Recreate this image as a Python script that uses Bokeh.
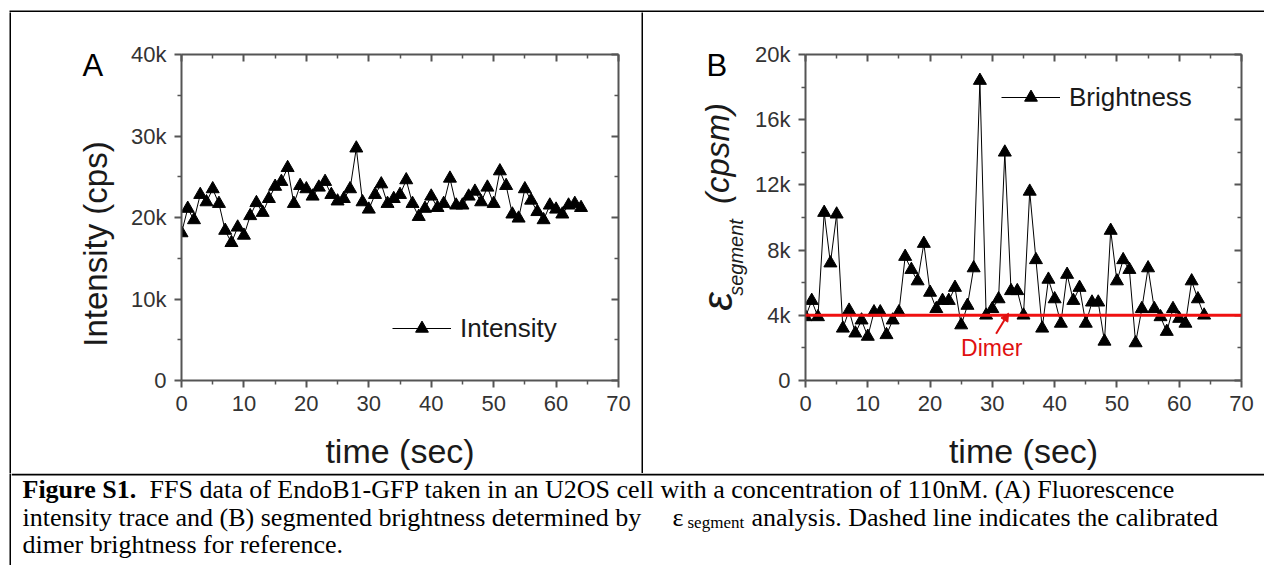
import math
from bokeh.plotting import figure
from bokeh.layouts import column, row
from bokeh.models import (Range1d, LinearAxis, Span, Label, Arrow, NormalHead,
                          Legend, LegendItem, Spacer, FixedTicker)
from bokeh.embed import file_html
from bokeh.resources import INLINE

# ---------------- data ----------------
time_s = list(range(65))
intensity_cps = [18100, 21100, 19700, 22800, 21900, 23500, 21700, 18400, 16900, 18800,
                 17800, 20200, 21800, 20600, 22300, 23800, 24400, 26100, 21700, 23900,
                 23500, 22600, 23700, 24400, 22800, 22000, 22300, 23500, 28500, 21900,
                 21000, 22800, 24100, 21700, 22300, 22800, 24600, 21700, 20100, 21100,
                 22600, 21200, 21700, 24800, 21500, 21500, 22600, 23200, 21900, 23700,
                 21700, 25700, 23900, 20400, 19900, 23500, 22100, 20700, 19700, 21500,
                 21000, 20400, 21500, 21700, 21200]
brightness_cpsm = [3900, 4900, 3900, 10300, 7200, 10200, 3200, 4300, 2900, 3700,
                   2700, 4200, 4200, 2800, 3700, 4200, 7600, 6800, 6100, 8400,
                   5400, 4400, 4900, 4900, 5700, 3400, 4600, 6900, 18400, 4000,
                   4400, 5000, 14000, 5500, 5500, 4000, 11600, 7400, 3200, 6200,
                   5000, 3500, 6500, 4900, 5700, 3500, 4800, 4800, 2400, 9200,
                   6100, 7400, 6800, 2300, 4400, 6900, 4400, 3900, 3000, 4400,
                   3800, 3500, 6100, 5000, 4000]
dimer_level = 4000

x_ticks = [0, 10, 20, 30, 40, 50, 60, 70]
x_minor = [5, 15, 25, 35, 45, 55, 65]
a_y_ticks = [0, 10000, 20000, 30000, 40000]
a_y_minor = [5000, 15000, 25000, 35000]
a_y_tick_labels = ["0", "10k", "20k", "30k", "40k"]
b_y_ticks = [0, 4000, 8000, 12000, 16000, 20000]
b_y_minor = [2000, 6000, 10000, 14000, 18000]
b_y_tick_labels = ["0", "4k", "8k", "12k", "16k", "20k"]

SANS = "Liberation Sans"
SERIF = "Liberation Serif"
AXIS_GREY = "#555555"
TEXT = "#1a1a1a"
PANEL_H = 461
TOP_H = 12
CAP_H = 92


def style_axes(p, yt, ym, ylabels):
    bottom = p.below[0]
    left = p.left[0]
    xt = FixedTicker(ticks=x_ticks, minor_ticks=x_minor)
    ytk = FixedTicker(ticks=yt, minor_ticks=ym)
    top = LinearAxis(ticker=xt)
    right = LinearAxis(ticker=ytk)
    p.add_layout(top, "above")
    p.add_layout(right, "right")
    bottom.ticker = xt
    left.ticker = ytk
    for ax in [bottom, left, top, right]:
        ax.axis_line_color = AXIS_GREY
        ax.axis_line_width = 2
        ax.major_tick_line_color = AXIS_GREY
        ax.minor_tick_line_color = AXIS_GREY
        ax.major_tick_line_width = 2
        ax.minor_tick_line_width = 1.5
        ax.major_label_text_font = SANS
        ax.major_label_text_font_size = "22px"
        ax.major_label_text_color = "#333333"
        ax.axis_label_text_font = SANS
        ax.axis_label_text_font_style = "normal"
        ax.axis_label_text_color = TEXT
        ax.axis_label_text_font_size = "34px"
    for ax in [bottom, left]:
        ax.major_tick_out = 7
        ax.major_tick_in = 0
        ax.minor_tick_out = 4
        ax.minor_tick_in = 0
        ax.major_label_standoff = 8
    for ax in [top, right]:
        ax.major_tick_out = 0
        ax.major_tick_in = 7
        ax.minor_tick_out = 0
        ax.minor_tick_in = 4
        ax.major_label_text_font_size = "0px"
        ax.major_label_standoff = 0
    left.major_label_overrides = {v: s for v, s in zip(yt, ylabels)}
    right.major_label_overrides = {v: "" for v in yt}
    top.major_label_overrides = {v: "" for v in x_ticks}
    bottom.axis_label = "time (sec)"
    bottom.axis_label_standoff = 18
    p.xgrid.visible = False
    p.ygrid.visible = False
    p.outline_line_color = None


def base_fig(min_left, frame_w, min_right, y_end):
    p = figure(frame_width=frame_w, frame_height=326, toolbar_location=None,
               output_backend="svg", x_range=Range1d(0, 70), y_range=Range1d(0, y_end),
               min_border_left=min_left, min_border_right=min_right,
               min_border_top=42, min_border_bottom=93,
               background_fill_color="white", border_fill_color="white")
    return p


def legend_for(p, label, renderers, loc):
    lg = Legend(items=[LegendItem(label=label, renderers=renderers)], location=loc,
                glyph_width=59, glyph_height=32, label_standoff=9, padding=0, margin=0,
                spacing=0, border_line_color=None, background_fill_alpha=0,
                label_text_font=SANS, label_text_font_size="26px", label_text_color=TEXT)
    p.add_layout(lg, "center")


def text_fig(w, h):
    """A plain pixel-space figure (y measured upward) that only carries text and rules."""
    f = figure(width=w, height=h, toolbar_location=None, output_backend="svg",
               x_axis_location=None, y_axis_location=None, min_border=0,
               x_range=Range1d(0, w), y_range=Range1d(0, h), frame_align=False,
               outline_line_color=None, background_fill_color="white",
               border_fill_color="white")
    f.grid.visible = False
    return f


def vbar(h):
    f = figure(width=2, height=h, toolbar_location=None, output_backend="svg",
               x_axis_location=None, y_axis_location=None, min_border=0, frame_align=False,
               background_fill_color="black", border_fill_color="black",
               outline_line_color=None)
    f.grid.visible = False
    return f


def lab(fig, x, y_from_top, h, text, size, style="normal", angle=0.0, align="left",
        baseline="alphabetic", font=SANS, color=TEXT):
    fig.add_layout(Label(x=x, y=h - y_from_top, text=text, text_font=font,
                         text_font_size=size, text_font_style=style, text_color=color,
                         angle=angle, text_align=align, text_baseline=baseline))


# ---------------- top rule ----------------
top_strip = text_fig(1264, TOP_H)
top_strip.quad(left=9, right=1264, bottom=0, top=2, fill_color="black", line_color=None)

# ---------------- panel A ----------------
ta = text_fig(112, PANEL_H)
lab(ta, 71, 53, PANEL_H, "A", "31px", color="black")
lab(ta, 84, 231.5, PANEL_H, "Intensity (cps)", "33px", angle=math.pi / 2,
    align="center", baseline="middle")

pa = base_fig(58, 437, 23, 40000)
style_axes(pa, a_y_ticks, a_y_minor, a_y_tick_labels)
la = pa.line(time_s, intensity_cps, line_color="black", line_width=1)
sa = pa.scatter(time_s, intensity_cps, marker="triangle", size=13,
                fill_color="black", line_color="black")
legend_for(pa, "Intensity", [la, sa], (211, 36))

# ---------------- panel B ----------------
tb = text_fig(108, PANEL_H)
lab(tb, 63, 53, PANEL_H, "B", "31px", color="black")
lab(tb, 74, 289, PANEL_H, "ε", "42px", style="italic", angle=math.pi / 2,
    align="center", baseline="middle")
lab(tb, 92, 245, PANEL_H, "segment", "20px", style="italic", angle=math.pi / 2,
    align="center", baseline="middle")
lab(tb, 74, 141, PANEL_H, "(cpsm)", "33px", style="italic", angle=math.pi / 2,
    align="center", baseline="middle")

pb = base_fig(54, 436, 23, 20000)
style_axes(pb, b_y_ticks, b_y_minor, b_y_tick_labels)
lb = pb.line(time_s, brightness_cpsm, line_color="black", line_width=1)
sb = pb.scatter(time_s, brightness_cpsm, marker="triangle", size=13,
                fill_color="black", line_color="black")
legend_for(pb, "Brightness", [lb, sb], (196, 267))
pb.add_layout(Span(location=dimer_level, dimension="width", line_color="#f01010", line_width=3))
pb.add_layout(Label(x=29.9, y=2000, text="Dimer", text_font=SANS, text_font_size="23px",
                    text_color="#e01010", text_align="center", text_baseline="middle"))
pb.add_layout(Arrow(x_start=30.6, y_start=2870, x_end=32.6, y_end=4130,
                    line_color="#e01010", line_width=2,
                    end=NormalHead(size=8, fill_color="#e01010", line_color="#e01010")))

# ---------------- caption ----------------
CAP_W = 1253
pc = text_fig(CAP_W, CAP_H)
pc.quad(left=0, right=CAP_W, bottom=CAP_H - 2, top=CAP_H, fill_color="black", line_color=None)
cap_size = "26px"


def cap(x, y_from_top, text, style="normal", size=cap_size):
    lab(pc, x, y_from_top, CAP_H, text, size, style=style, font=SERIF, color="black")


cap(11, 16, "Figure S1.", "bold")
cap(138, 16, "FFS data of EndoB1-GFP taken in an U2OS cell with a concentration of 110nM. (A) Fluorescence")
cap(11, 44, "intensity trace and (B) segmented brightness determined by")
cap(661, 44, "ε")
cap(676, 49, "segment", size="17px")
cap(740, 44, "analysis. Dashed line indicates the calibrated")
cap(11, 71, "dimer brightness for reference.")

layout = column(
    top_strip,
    row(Spacer(width=9, height=PANEL_H), vbar(PANEL_H), ta, pa, vbar(PANEL_H), tb, pb),
    row(Spacer(width=9, height=CAP_H), vbar(CAP_H), pc),
)

open("out.html", "w").write(file_html(layout, INLINE))
